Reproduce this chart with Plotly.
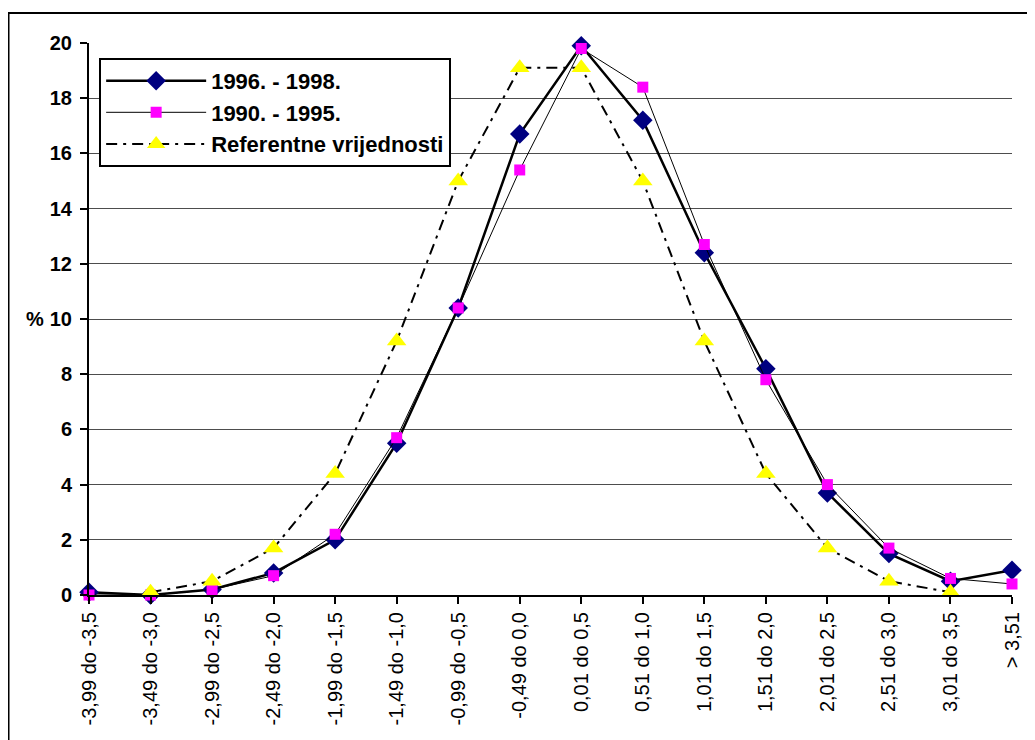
import plotly.graph_objects as go

categories = ["-3,99 do -3,5", "-3,49 do -3,0", "-2,99 do -2,5", "-2,49 do -2,0",
              "-1,99 do -1,5", "-1,49 do -1,0", "-0,99 do -0,5", "-0,49 do 0,0",
              "0,01 do 0,5", "0,51 do 1,0", "1,01 do 1,5", "1,51 do 2,0",
              "2,01 do 2,5", "2,51 do 3,0", "3,01 do 3,5", "> 3,51"]

s_1996_1998 = [0.1, 0.0, 0.2, 0.8, 2.0, 5.5, 10.4, 16.7, 19.9, 17.2, 12.4, 8.2, 3.7, 1.5, 0.5, 0.9]
s_1990_1995 = [0.0, 0.0, 0.2, 0.7, 2.2, 5.7, 10.4, 15.4, 19.8, 18.4, 12.7, 7.8, 4.0, 1.7, 0.6, 0.4]
s_referentne = [None, 0.1, 0.5, 1.7, 4.4, 9.2, 15.0, 19.1, 19.1, 15.0, 9.2, 4.4, 1.7, 0.5, 0.1, None]

y_ticks = list(range(0, 21, 2))

xi = list(range(len(categories)))

fig = go.Figure()
fig.add_trace(go.Scatter(
    x=xi, y=s_1996_1998, name="1996. - 1998.", mode="lines+markers",
    line=dict(color="black", width=2.5),
    marker=dict(symbol="diamond", size=15, color="#000080"),
    cliponaxis=False))
fig.add_trace(go.Scatter(
    x=xi, y=s_1990_1995, name="1990. - 1995.", mode="lines+markers",
    line=dict(color="black", width=1),
    marker=dict(symbol="square", size=11, color="#FF00FF"),
    cliponaxis=False))
fig.add_trace(go.Scatter(
    x=xi, y=s_referentne, name="Referentne vrijednosti", mode="lines+markers",
    line=dict(color="black", width=2, dash="11px,6px,3px,6px"),
    marker=dict(symbol="triangle-up", size=17, color="#FFFF00"),
    cliponaxis=False))

fig.update_layout(
    width=1027, height=732,
    margin=dict(l=81, r=17, t=35, b=145),
    paper_bgcolor="white", plot_bgcolor="white",
    font=dict(family="Liberation Sans, Arial, sans-serif", color="black"),
    showlegend=True,
    legend=dict(x=0.011, y=0.973, xanchor="left", yanchor="top",
                bgcolor="white", bordercolor="black", borderwidth=2,
                font=dict(size=22, family="Liberation Sans, Arial, sans-serif", weight="bold"),
                itemwidth=100, tracegroupgap=3),
    xaxis=dict(range=[0, 15], tickmode="array", tickvals=xi, ticktext=categories,
               tickangle=-90, ticks="outside", ticklen=7, tickwidth=2, tickcolor="black",
               showline=True, linecolor="black", linewidth=2, showgrid=False,
               zeroline=False, tickfont=dict(size=20)),
    yaxis=dict(range=[0, 20], tickmode="array", tickvals=y_ticks,
               ticks="outside", ticklen=7, tickwidth=2, tickcolor="black",
               showline=True, linecolor="black", linewidth=2,
               showgrid=True, gridcolor="#4d4d4d", gridwidth=1, zeroline=False,
               tickfont=dict(size=20, weight="bold"), ticklabelstandoff=4),
    shapes=[dict(type="rect", xref="paper", yref="paper",
                 x0=-0.0872, x1=1.03, y0=-0.28, y1=1.0543,
                 line=dict(color="black", width=2), layer="below")],
    annotations=[dict(text="%", xref="paper", yref="y", x=-0.058, y=10,
                      xanchor="center", yanchor="middle", showarrow=False,
                      font=dict(size=20, weight="bold"))],
)

fig.write_html("out.html")
